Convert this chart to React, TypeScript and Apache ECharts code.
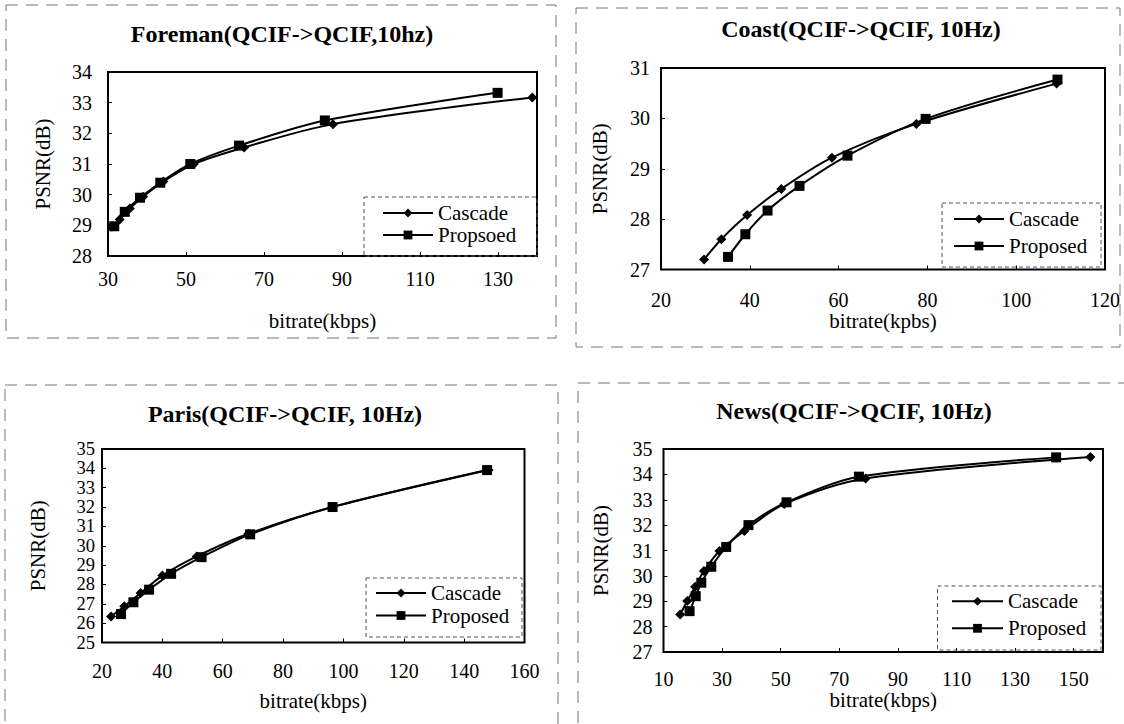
import React, { useEffect, useRef } from 'react';
import * as echarts from 'echarts';

const FONT = 'Liberation Serif, Times New Roman, serif';

// ---- Foreman ----
const foremanCascadeRate = [31.0, 33.0, 35.6, 39.0, 44.2, 52.0, 64.9, 87.7, 138.8];
const foremanCascadePsnr = [28.95, 29.19, 29.55, 29.93, 30.43, 31.0, 31.54, 32.3, 33.17];
const foremanProposedRate = [31.6, 34.3, 38.2, 43.4, 51.1, 63.6, 85.6, 129.9];
const foremanProposedPsnr = [28.97, 29.44, 29.9, 30.39, 31.0, 31.6, 32.42, 33.32];
const foremanX = [30, 140, 20];
const foremanY = [28, 34, 1];

// ---- Coast ----
const coastCascadeRate = [29.7, 33.6, 39.4, 47.1, 58.5, 77.5, 109.1];
const coastCascadePsnr = [27.2, 27.6, 28.08, 28.6, 29.22, 29.89, 30.69];
const coastProposedRate = [35.1, 39.0, 44.0, 51.2, 62.0, 79.6, 109.3];
const coastProposedPsnr = [27.25, 27.7, 28.17, 28.66, 29.26, 29.99, 30.77];
const coastX = [20, 120, 20];
const coastY = [27, 31, 1];

// ---- Paris ----
const parisCascadeRate = [23.0, 27.4, 32.8, 40.0, 51.4, 68.5, 96.4, 148.1];
const parisCascadePsnr = [26.35, 26.87, 27.56, 28.46, 29.45, 30.62, 32.0, 33.91];
const parisProposedRate = [26.3, 30.4, 35.6, 42.9, 53.0, 69.1, 96.4, 147.6];
const parisProposedPsnr = [26.47, 27.08, 27.73, 28.55, 29.41, 30.59, 32.0, 33.91];
const parisX = [20, 160, 20];
const parisY = [25, 35, 1];

// ---- News ----
const newsCascadeRate = [15.7, 18.1, 20.8, 23.8, 29.1, 37.6, 51.2, 79.0, 155.7];
const newsCascadePsnr = [28.48, 29.01, 29.57, 30.19, 30.98, 31.77, 32.83, 33.84, 34.68];
const newsProposedRate = [18.9, 21.0, 22.9, 26.3, 31.4, 39.0, 52.0, 76.7, 144.0];
const newsProposedPsnr = [28.61, 29.2, 29.73, 30.36, 31.14, 32.0, 32.9, 33.91, 34.67];
const newsX = [10, 160, 20];
const newsY = [27, 35, 1];

const titles = [
  'Foreman(QCIF->QCIF,10hz)',
  'Coast(QCIF->QCIF, 10Hz)',
  'Paris(QCIF->QCIF, 10Hz)',
  'News(QCIF->QCIF, 10Hz)',
];
const xNames = ['bitrate(kbps)', 'bitrate(kpbs)', 'bitrate(kbps)', 'bitrate(kbps)'];
const yName = 'PSNR(dB)';
const legendNames = [
  ['Cascade', 'Propsoed'],
  ['Cascade', 'Proposed'],
  ['Cascade', 'Proposed'],
  ['Cascade', 'Proposed'],
];

const zip = (a: number[], b: number[]) => a.map((v, i) => [v, b[i]]);

const panels = [
  {
    title: titles[0], titleX: 282, titleY: 34,
    grid: { left: 108, top: 72, width: 429, height: 184 },
    x: foremanX, y: foremanY, xName: xNames[0],
    xNameGap: 54, xLabelMargin: 13, yLabelMargin: 16, yNameGap: 55,
    yFont: 20, yLine: 20,
    legend: { left: 382, top: 202.5, gap: 1, itemWidth: 50, textGap: 3 },
    legendBox: [364, 197, 173, 59],
    panel: [6, 5, 550, 333],
    cascade: zip(foremanCascadeRate, foremanCascadePsnr),
    proposed: zip(foremanProposedRate, foremanProposedPsnr),
  },
  {
    title: titles[1], titleX: 861, titleY: 29,
    grid: { left: 661, top: 68, width: 444, height: 201.5 },
    x: coastX, y: coastY, xName: xNames[1],
    xNameGap: 41, xLabelMargin: 20, yLabelMargin: 11, yNameGap: 51,
    yFont: 20, yLine: 20,
    legend: { left: 953, top: 208.5, gap: 6, itemWidth: 50, textGap: 3 },
    legendBox: [942, 203, 159, 64],
    panel: [576, 8, 544, 339],
    cascade: zip(coastCascadeRate, coastCascadePsnr),
    proposed: zip(coastProposedRate, coastProposedPsnr),
  },
  {
    title: titles[2], titleX: 285, titleY: 414,
    grid: { left: 102, top: 449, width: 422.5, height: 193.5 },
    x: parisX, y: parisY, xName: xNames[2],
    xNameGap: 48, xLabelMargin: 18, yLabelMargin: 7, yNameGap: 54,
    yFont: 18.5, yLine: 14,
    legend: { left: 375, top: 582.5, gap: 1.5, itemWidth: 50, textGap: 4 },
    legendBox: [366, 578, 156, 59],
    panel: [5, 385, 553, 345],
    cascade: zip(parisCascadeRate, parisCascadePsnr),
    proposed: zip(parisProposedRate, parisProposedPsnr),
  },
  {
    title: titles[3], titleX: 854, titleY: 411,
    grid: { left: 663.5, top: 449, width: 439.5, height: 203 },
    x: newsX, y: newsY, xName: xNames[3],
    xNameGap: 33, xLabelMargin: 17, yLabelMargin: 11, yNameGap: 52,
    yFont: 20, yLine: 20,
    legend: { left: 951, top: 590.8, gap: 6, itemWidth: 51, textGap: 4 },
    legendBox: [937.5, 586, 163.5, 64],
    panel: [578, 383, 560, 360],
    cascade: zip(newsCascadeRate, newsCascadePsnr),
    proposed: zip(newsProposedRate, newsProposedPsnr),
  },
];

export default function App() {
  const ref = useRef<HTMLDivElement>(null);

  useEffect(() => {
    if (!ref.current) return;
    const chart = echarts.init(ref.current, undefined, { renderer: 'svg' });

    const option: any = {
      animation: false,
      backgroundColor: '#fff',
      textStyle: { fontFamily: FONT, color: '#000' },
      grid: panels.map((p) => ({
        ...p.grid,
        show: true,
        borderColor: '#000',
        borderWidth: 2,
        backgroundColor: 'transparent',
        containLabel: false,
      })),
      xAxis: panels.map((p, i) => ({
        type: 'value',
        gridIndex: i,
        min: p.x[0],
        max: p.x[1],
        interval: p.x[2],
        name: p.xName,
        nameLocation: 'middle',
        nameGap: p.xNameGap,
        nameTextStyle: { fontFamily: FONT, fontSize: 21, color: '#000' },
        axisLine: { show: false },
        axisTick: { show: true, inside: true, length: 4, lineStyle: { color: '#000', width: 1 } },
        splitLine: { show: false },
        axisLabel: {
          fontFamily: FONT,
          fontSize: 20,
          color: '#000',
          margin: p.xLabelMargin,
          showMinLabel: true,
          showMaxLabel: (p.x[1] - p.x[0]) % p.x[2] === 0,
          hideOverlap: false,
        },
      })),
      yAxis: panels.map((p, i) => ({
        type: 'value',
        gridIndex: i,
        min: p.y[0],
        max: p.y[1],
        interval: p.y[2],
        name: yName,
        nameLocation: 'middle',
        nameGap: p.yNameGap,
        nameTextStyle: { fontFamily: FONT, fontSize: 21, color: '#000' },
        axisLine: { show: false },
        axisTick: { show: true, inside: true, length: 4, lineStyle: { color: '#000', width: 1 } },
        splitLine: { show: false },
        axisLabel: {
          fontFamily: FONT,
          fontSize: p.yFont,
          lineHeight: p.yLine,
          color: '#000',
          margin: p.yLabelMargin,
          showMinLabel: true,
          showMaxLabel: true,
          hideOverlap: false,
          interval: 0,
        },
      })),
      legend: panels.map((p, i) => ({
        orient: 'vertical',
        left: p.legend.left,
        top: p.legend.top,
        padding: 0,
        itemGap: p.legend.gap,
        itemWidth: p.legend.itemWidth,
        itemHeight: 11,
        itemTextGap: p.legend.textGap,
        selectedMode: false,
        data: legendNames[i],
        textStyle: { fontFamily: FONT, fontSize: 21, color: '#000', lineHeight: 21 },
      })),
      series: panels.flatMap((p, i) => [
        {
          type: 'line',
          name: legendNames[i][0],
          xAxisIndex: i,
          yAxisIndex: i,
          data: p.cascade,
          symbol: 'diamond',
          symbolSize: 10,
          smooth: 0.3,
          lineStyle: { color: '#000', width: 2 },
          itemStyle: { color: '#000' },
          z: 3,
        },
        {
          type: 'line',
          name: legendNames[i][1],
          xAxisIndex: i,
          yAxisIndex: i,
          data: p.proposed,
          symbol: 'rect',
          symbolSize: 10,
          smooth: 0.3,
          lineStyle: { color: '#000', width: 2 },
          itemStyle: { color: '#000' },
          z: 4,
        },
      ]),
      graphic: [
        ...panels.map((p) => ({
          type: 'rect',
          silent: true,
          shape: { x: p.panel[0], y: p.panel[1], width: p.panel[2], height: p.panel[3] },
          style: { fill: 'none', stroke: '#777', lineWidth: 1, lineDash: [12, 8] },
          z: 0,
        })),
        ...panels.map((p) => ({
          type: 'rect',
          silent: true,
          shape: { x: p.legendBox[0], y: p.legendBox[1], width: p.legendBox[2], height: p.legendBox[3] },
          style: { fill: 'none', stroke: '#555', lineWidth: 1, lineDash: [4, 3] },
          z: 1,
        })),
        ...panels.map((p) => ({
          type: 'text',
          silent: true,
          x: p.titleX,
          y: p.titleY,
          style: {
            text: p.title,
            fontFamily: FONT,
            fontWeight: 'bold',
            fontSize: 24,
            fill: '#000',
            textAlign: 'center',
            textVerticalAlign: 'middle',
          },
          z: 5,
        })),
      ],
    };

    chart.setOption(option);
    return () => chart.dispose();
  }, []);

  return (
    <div
      ref={ref}
      style={{ position: 'fixed', left: 0, top: 0, width: 1124, height: 724, background: '#fff' }}
    />
  );
}
